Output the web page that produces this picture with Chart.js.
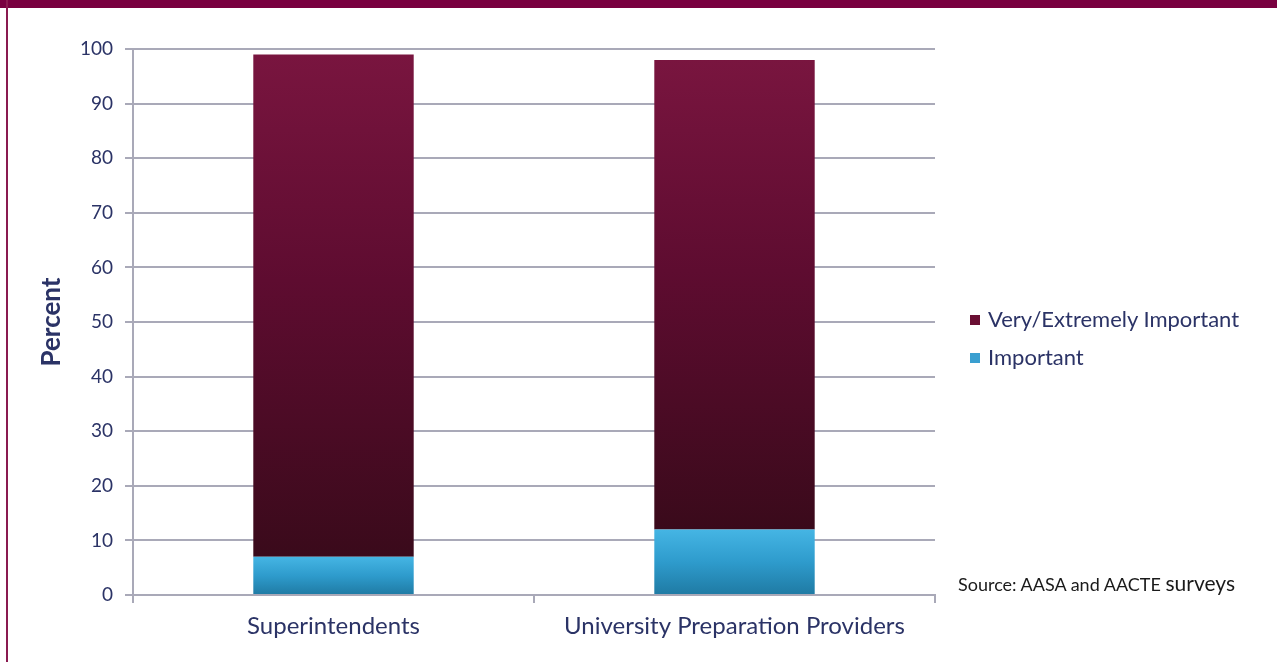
<!DOCTYPE html>
<html>
<head>
<meta charset="utf-8">
<script src="https://cdn.jsdelivr.net/npm/chart.js@4.4.0/dist/chart.umd.min.js"></script>
<style>
  html, body { margin: 0; padding: 0; background: #fff; }
  #wrap { position: relative; width: 1277px; height: 662px; overflow: hidden; }
  #band { position: absolute; left: 0; top: 0; width: 1277px; height: 8px; background: #790040; }
  #edge { position: absolute; left: 6px; top: 0; width: 2px; height: 662px; background: #8a1a50; }
  #chartBox { position: absolute; left: 0; top: 0; width: 1277px; height: 662px; }
  #legend { position: absolute; left: 970px; top: 304px; font-family: Lato, sans-serif; font-size: 22px; color: #2b3366; }
  #legend div { height: 38px; line-height: 30px; white-space: nowrap; }
  #legend span.sw { display: inline-block; width: 10px; height: 10px; margin-right: 8px; vertical-align: 2px; }
  #source { position: absolute; left: 958px; top: 570px; font-family: Lato, sans-serif; font-size: 18px; color: #1a1a1a; white-space: nowrap; }
  #source b { font-weight: normal; font-size: 21px; }
</style>
</head>
<body>
<div id="wrap">
  <div id="band"></div>
  <div id="edge"></div>
  <div id="chartBox"><canvas id="skillsChart" width="1277" height="662"></canvas></div>
  <div id="legend"></div>
  <div id="source">Source: AASA and AACTE <b>surveys</b></div>
</div>
<script>
var categories = ["Superintendents", "University Preparation Providers"];
var importantValues = [7, 12];
var veryValues = [92, 86];
var yTicks = [0, 10, 20, 30, 40, 50, 60, 70, 80, 90, 100];

var textColor = '#2b3366';
var gridColor = '#a9a9b8';

// vertical gradient across a single bar segment
function segGradient(ctx, from, to, stops) {
    var chart = ctx.chart;
    if (!chart.chartArea || !chart.scales.y) return stops[0][1];
    var y = chart.scales.y;
    var i = ctx.dataIndex;
    var top = y.getPixelForValue(to[i]);
    var bottom = y.getPixelForValue(from[i]);
    if (!isFinite(top) || !isFinite(bottom) || top === bottom) return stops[0][1];
    var g = chart.ctx.createLinearGradient(0, top, 0, bottom);
    stops.forEach(function (s) { g.addColorStop(s[0], s[1]); });
    return g;
}

var zeros = importantValues.map(function () { return 0; });
var totals = importantValues.map(function (v, i) { return v + veryValues[i]; });

var skillsData = {
    labels: categories,
    datasets: [{
        label: "Important",
        data: importantValues,
        swatch: '#3a9fd0',
        backgroundColor: function (ctx) {
            return segGradient(ctx, zeros, importantValues, [[0, '#45b5e4'], [0.5, '#2e9bcc'], [1, '#1f7aa3']]);
        },
        barPercentage: 0.8,
        categoryPercentage: 0.5
    }, {
        label: "Very/Extremely Important",
        data: veryValues,
        swatch: '#6a0f33',
        backgroundColor: function (ctx) {
            return segGradient(ctx, importantValues, totals, [[0, '#79153f'], [0.45, '#5e0c30'], [1, '#3a0a1b']]);
        },
        barPercentage: 0.8,
        categoryPercentage: 0.5
    }]
};

var skillsOptions = {
    responsive: false,
    animation: false,
    layout: { padding: { top: 49, right: 342, left: 0, bottom: 0 } },
    plugins: { legend: { display: false }, tooltip: { enabled: false } },
    scales: {
        x: {
            stacked: true,
            offset: true,
            grid: { display: true, drawOnChartArea: false, offset: true, color: gridColor, lineWidth: 2, tickLength: 8 },
            border: { color: gridColor, width: 2 },
            ticks: { color: textColor, padding: 9, font: { family: 'Lato', size: 24 } },
            afterFit: function (s) { s.height = 67; }
        },
        y: {
            stacked: true,
            min: 0,
            max: 100,
            afterBuildTicks: function (s) { s.ticks = yTicks.map(function (v) { return { value: v }; }); },
            grid: { color: gridColor, lineWidth: 2, tickLength: 8 },
            border: { color: gridColor, width: 2 },
            ticks: { color: textColor, padding: 12, font: { family: 'Lato', size: 19 } },
            title: { display: true, text: 'Percent', color: textColor, padding: { top: 36, bottom: 0 }, font: { family: 'Lato', size: 26, weight: 'bold' } },
            afterFit: function (s) { s.width = 133; }
        }
    }
};

var ctx = document.getElementById('skillsChart').getContext('2d');

var myChart = new Chart(ctx, {
    type: 'bar',
    data: skillsData,
    options: skillsOptions
});

// legend, top series first like the original
var legendEl = document.getElementById('legend');
skillsData.datasets.slice().reverse().forEach(function (ds) {
    var row = document.createElement('div');
    var sw = document.createElement('span');
    sw.className = 'sw';
    sw.style.background = ds.swatch;
    row.appendChild(sw);
    row.appendChild(document.createTextNode(ds.label));
    legendEl.appendChild(row);
});
</script>
</body>
</html>
